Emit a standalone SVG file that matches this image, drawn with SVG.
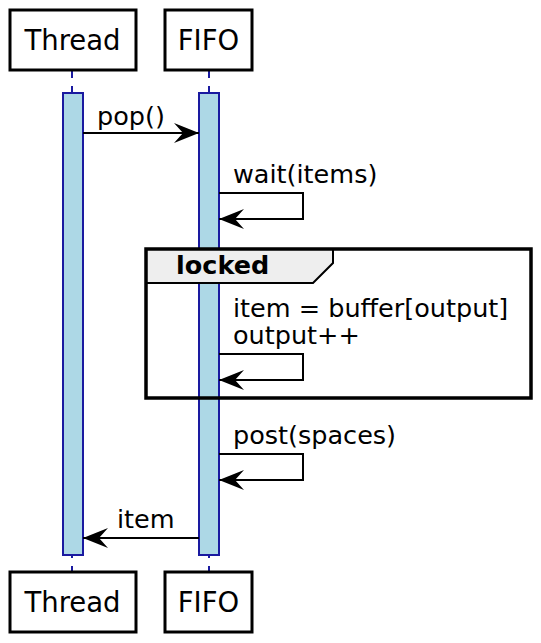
<svg xmlns="http://www.w3.org/2000/svg" width="541" height="643" viewBox="0 0 541 643">
<style>
.box{fill:#fff;stroke:#000;stroke-width:3}
.pt{font-family:"DejaVu Sans",sans-serif;font-size:27.5px;fill:#000;text-anchor:middle}
.mt{font-family:"DejaVu Sans",sans-serif;font-size:25.5px;fill:#000}
.life{stroke:#1a1aa0;stroke-width:2;stroke-dasharray:8,8}
.act{fill:#add8e6;stroke:#1a1aa0;stroke-width:2}
.msg{fill:none;stroke:#000;stroke-width:2}
</style>
<defs>
<marker id="ah" markerWidth="25" markerHeight="20" refX="25" refY="10" orient="auto" markerUnits="userSpaceOnUse">
<path d="M0,0 L25,10 L0,20 L9,10 Z" fill="#000"/>
</marker>
</defs>
<g id="lifelines">
<line class="life" x1="72" y1="70" x2="72" y2="572"/>
<line class="life" x1="209" y1="70" x2="209" y2="572"/>
</g>
<g id="thread-top"><rect class="box" x="10" y="10" width="126" height="60"/><text class="pt" x="72.5" y="50">Thread</text></g>
<g id="fifo-top"><rect class="box" x="165" y="10" width="87" height="60"/><text class="pt" x="208.5" y="50">FIFO</text></g>
<g id="thread-bottom"><rect class="box" x="10" y="572" width="126" height="60"/><text class="pt" x="72.5" y="612">Thread</text></g>
<g id="fifo-bottom"><rect class="box" x="165" y="572" width="87" height="60"/><text class="pt" x="208.5" y="612">FIFO</text></g>
<g id="activations">
<rect class="act" x="63" y="93" width="20" height="462"/>
<rect class="act" x="199" y="93" width="20" height="462"/>
</g>
<g id="frame-locked">
<path d="M146,249 L333,249 L333,263 L313,283 L146,283 Z" fill="#eeeeee" stroke="#000" stroke-width="2"/>
<rect x="146" y="249" width="385" height="149" fill="none" stroke="#000" stroke-width="3.5"/>
<text class="mt" x="176" y="274" font-weight="bold">locked</text>
</g>
<g id="connectors">
<line class="msg" x1="83" y1="133" x2="199" y2="133" marker-end="url(#ah)"/>
<text class="mt" x="97" y="125">pop()</text>
<path class="msg" d="M219,193 H303 V219 H219" marker-end="url(#ah)"/>
<text class="mt" x="233" y="183">wait(items)</text>
<path class="msg" d="M219,354 H303 V380 H219" marker-end="url(#ah)"/>
<text class="mt" x="233" y="317">item = buffer[output]</text>
<text class="mt" x="233" y="344">output++</text>
<path class="msg" d="M219,454 H303 V480 H219" marker-end="url(#ah)"/>
<text class="mt" x="233" y="444">post(spaces)</text>
<line class="msg" x1="199" y1="538" x2="83" y2="538" marker-end="url(#ah)"/>
<text class="mt" x="117" y="528">item</text>
</g>
</svg>
